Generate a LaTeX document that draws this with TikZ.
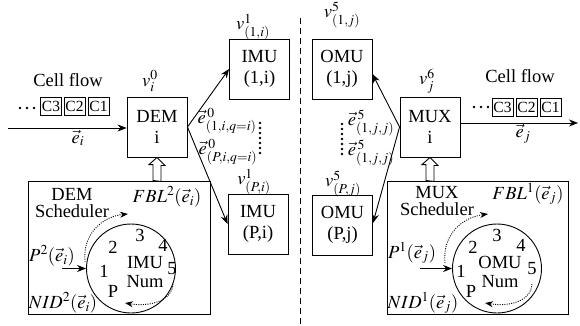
\documentclass[tikz,border=0pt]{standalone}
\usepackage{mathptmx}
\usepackage{fontspec}
\setmainfont{Liberation Serif}
\usetikzlibrary{arrows.meta,calc}
\begin{document}
\begin{tikzpicture}[x=1pt,y=-1pt,
  every node/.style={font=\fontsize{18.5}{19}\selectfont, inner sep=0pt},
  unitbox/.style={draw, line width=0.9pt, minimum width=60pt, minimum height=60pt, align=center, font=\fontsize{18.5}{21}\selectfont},
  schedbox/.style={draw, line width=0.9pt},
  ring/.style={draw, line width=0.9pt, circle, minimum size=89pt},
  conn/.style={line width=0.9pt, -{Stealth[length=9pt,width=7pt]}},
  cyc/.style={line width=0.9pt, dash pattern=on 1pt off 1.3pt, -{Stealth[length=8pt,width=6pt]}},
  cellbox/.style={draw, line width=0.8pt, minimum width=21pt, minimum height=18pt, font=\fontsize{15.5}{16}\selectfont},
  hollow/.style={draw, line width=0.9pt, fill=white}
]
\useasboundingbox (0,0) rectangle (580,326);

% dashed separator
\coordinate (dtop) at (300,18);
\coordinate (dbot) at (300,326);
\draw[line width=0.8pt, dash pattern=on 6pt off 4pt] (dtop) -- (dbot);

% ---------- left ----------
\node[unitbox] (dem) at (157,127) {DEM\\i};
\node[unitbox] (imu1) at (259.5,69) {IMU\\(1,i)};
\node[unitbox] (imuP) at (258,224) {IMU\\(P,i)};

\node at (68,80) {Cell flow};
\foreach \xx in {20,27,34} \fill (\xx,108) circle (1.3pt);
\node[cellbox] (lc3) at (51,106) {C3};
\node[cellbox] (lc2) at (74.5,106) {C2};
\node[cellbox] (lc1) at (98.5,106) {C1};
\coordinate (src) at (8,128);
\draw[conn] (src) -- (src -| dem.west);
\node at (78,138) {$\vec{e}_i$};

\node at (150,81) {$v_i^0$};
\node at (253,27) {$v^1_{(1,i)}$};
\node at (254,182) {$v^1_{(P,i)}$};

\draw[conn] (dem.east) -- (imu1.west);
\draw[conn] (dem.east) -- (imuP.west);
\node at (227,121) {$\vec{e}^{\,0}_{(1,i,q=i)}$};
\node at (228,152) {$\vec{e}^{\,0}_{(P,i,q=i)}$};
\foreach \k in {0,...,6} \fill (260,{123+5*\k}) circle (1.3pt);

% DEM scheduler
\node[schedbox, minimum width=182pt, minimum height=133pt] (demsch) at (119,247.5) {};
\draw[hollow] ($(dem.south |- demsch.north)+(-4,0)$) -- ++(0,-16) -- ++(-4,0) -- (dem.south) -- ++(8,8) -- ++(-4,0) -- ++(0,16) -- cycle;
\node[align=center, font=\fontsize{18.5}{17.5}\selectfont] (demlbl) at (72,203) {DEM\\Scheduler};
\node (fblL) at (167,197) {$FBL^2(\vec{e}_i)$};
\node (pL) at (52,256) {$P^2(\vec{e}_i)$};
\node (nidL) at (63,303) {$NID^2(\vec{e}_i)$};
\node[ring] (cL) at (131,268.5) {};
\node at (104,271) {1};
\node at (113,247) {2};
\node at (140,235) {3};
\node at (163,245) {4};
\node at (172,269) {5};
\node at (113,291) {P};
\node[align=center, font=\fontsize{18.5}{19}\selectfont] at (145,272) {IMU\\Num};
\coordinate (inL) at (62,268.5);
\draw[conn] (inL) -- (cL.west);
\coordinate (uLa) at (85,262);
\coordinate (uLb) at (128,214);
\draw[cyc] (uLa) .. controls (82,232) and (105,216) .. (uLb);
\coordinate (dLa) at (173,284);
\coordinate (dLb) at (125,303);
\draw[cyc] (dLa) .. controls (172,301) and (150,307) .. (dLb);

% ---------- right ----------
\node[unitbox] (mux) at (430,127) {MUX\\i};
\node[unitbox] (omu1) at (342,69) {OMU\\(1,j)};
\node[unitbox] (omuP) at (342.5,225) {OMU\\(P,j)};

\node at (520,76) {Cell flow};
\foreach \xx in {474,481,488} \fill (\xx,107) circle (1.3pt);
\node[cellbox] (rc3) at (502.5,107) {C3};
\node[cellbox] (rc2) at (526.5,107) {C2};
\node[cellbox] (rc1) at (550.5,107) {C1};
\coordinate (dst) at (578,123);
\draw[conn] (dst -| mux.east) -- (dst);
\node at (523,134) {$\vec{e}_j$};

\node at (427,81) {$v^6_j$};
\node at (342,15) {$v^5_{(1,j)}$};
\node at (343,184) {$v^5_{(P,j)}$};

\draw[conn] (mux.west) -- ([yshift=-5pt]omu1.east);
\draw[conn] (mux.west) -- ([yshift=2pt]omuP.east);
\node at (371,123) {$\vec{e}^{\,5}_{(1,j,j)}$};
\node at (371,153) {$\vec{e}^{\,5}_{(1,j,j)}$};
\foreach \k in {0,...,6} \fill (342,{124+5*\k}) circle (1.3pt);

% MUX scheduler
\node[schedbox, minimum width=181pt, minimum height=133pt] (muxsch) at (477.5,247.5) {};
\draw[hollow] ($(mux.south |- muxsch.north)+(-4,0)$) -- ++(0,-16) -- ++(-4,0) -- (mux.south) -- ++(8,8) -- ++(-4,0) -- ++(0,16) -- cycle;
\node[align=center, font=\fontsize{18.5}{17.5}\selectfont] (muxlbl) at (437,201) {MUX\\Scheduler};
\node (fblR) at (528,194) {$FBL^1(\vec{e}_j)$};
\node (pR) at (412,253) {$P^1(\vec{e}_j)$};
\node (nidR) at (423,303) {$NID^1(\vec{e}_j)$};
\node[ring] (cR) at (497,268.5) {};
\node at (461,271) {1};
\node at (473,247) {2};
\node at (497,235) {3};
\node at (521,245) {4};
\node at (532,269) {5};
\node at (471,291) {P};
\node[align=center, font=\fontsize{18.5}{19}\selectfont] at (500,272) {OMU\\Num};
\coordinate (inR) at (420,268.5);
\draw[conn] (inR) -- (cR.west);
\coordinate (uRa) at (445,263);
\coordinate (uRb) at (488,214);
\draw[cyc] (uRa) .. controls (442,232) and (465,217) .. (uRb);
\coordinate (dRa) at (532,284);
\coordinate (dRb) at (485,303);
\draw[cyc] (dRa) .. controls (531,301) and (510,307) .. (dRb);
\end{tikzpicture}
\end{document}
